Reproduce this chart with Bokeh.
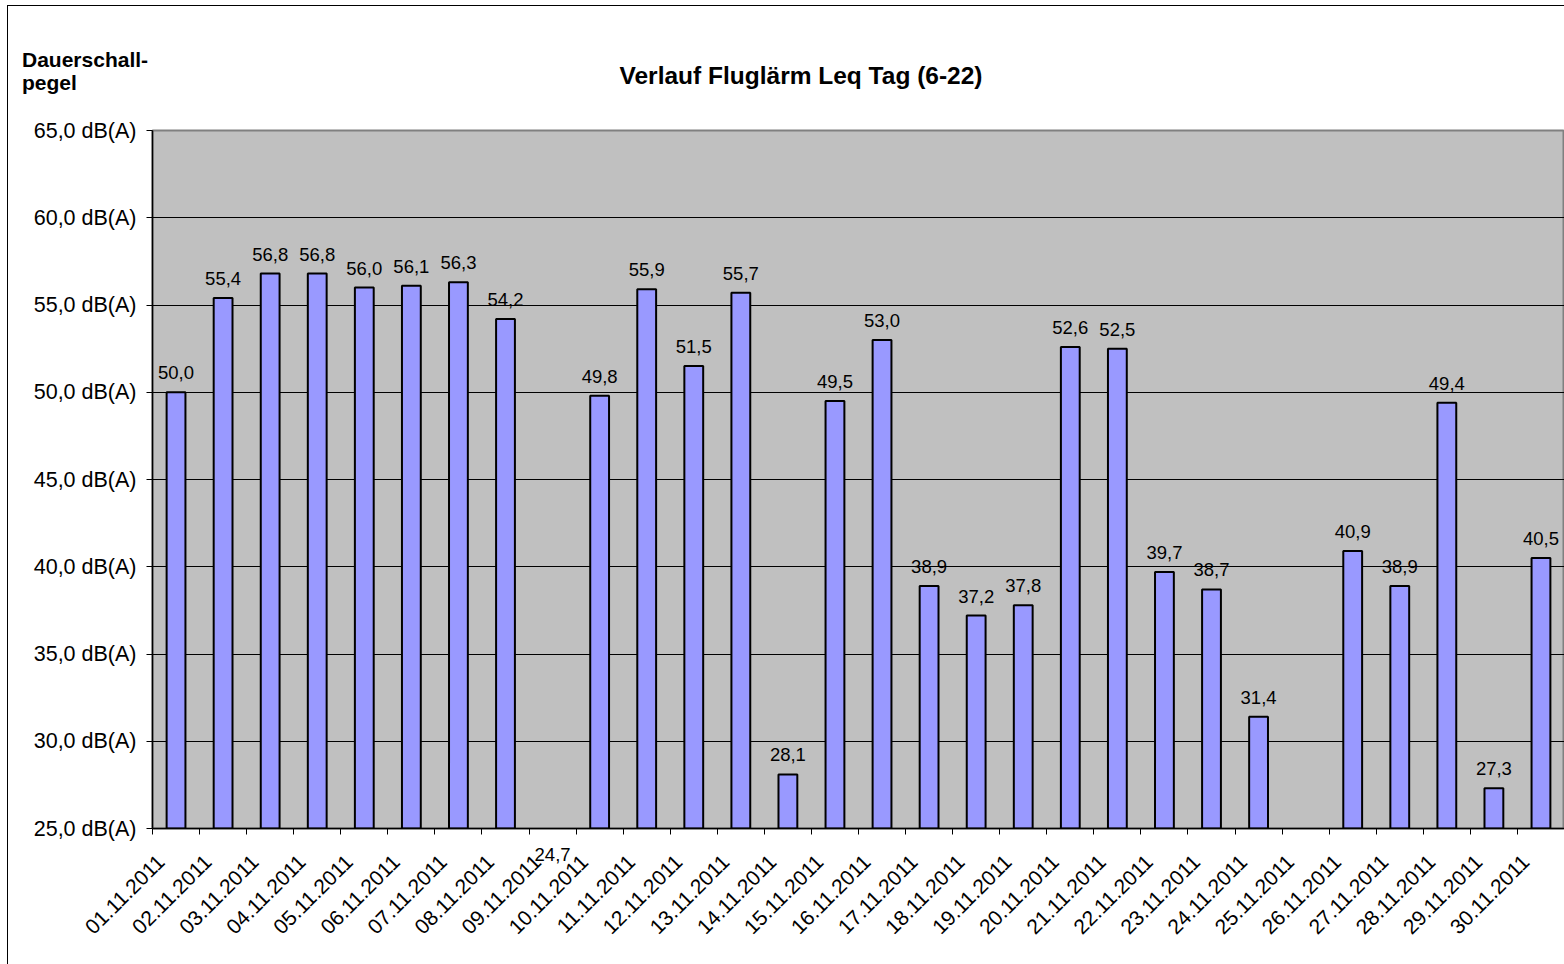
import math
from bokeh.plotting import figure
from bokeh.layouts import column
from bokeh.models import (ColumnDataSource, FixedTicker, CustomJSTickFormatter, Range1d,
                          Div, LinearAxis, Grid)
from bokeh.core.properties import value
from bokeh.embed import file_html
from bokeh.resources import INLINE

dates = ["01.11.2011", "02.11.2011", "03.11.2011", "04.11.2011", "05.11.2011",
         "06.11.2011", "07.11.2011", "08.11.2011", "09.11.2011", "10.11.2011",
         "11.11.2011", "12.11.2011", "13.11.2011", "14.11.2011", "15.11.2011",
         "16.11.2011", "17.11.2011", "18.11.2011", "19.11.2011", "20.11.2011",
         "21.11.2011", "22.11.2011", "23.11.2011", "24.11.2011", "25.11.2011",
         "26.11.2011", "27.11.2011", "28.11.2011", "29.11.2011", "30.11.2011"]
leq = [50.0, 55.4, 56.8, 56.8, 56.0, 56.1, 56.3, 54.2, 24.7, 49.8,
       55.9, 51.5, 55.7, 28.1, 49.5, 53.0, 38.9, 37.2, 37.8, 52.6,
       52.5, 39.7, 38.7, 31.4, None, 40.9, 38.9, 49.4, 27.3, 40.5]
y_ticks = [25, 30, 35, 40, 45, 50, 55, 60, 65]
y_min, y_max = 25, 65

title_text = "Verlauf Fluglärm Leq Tag (6-22)"
ylabel_lines = ["Dauerschall-", "pegel"]

FONT = "Liberation Sans"

def fmt(v):
    return f"{v:.1f}".replace(".", ",")

# bars above the axis minimum: bar + label above; below minimum: label under the axis
up = [(i + 0.5, v) for i, v in enumerate(leq) if v is not None and v > y_min]
down = [(i + 0.5, v) for i, v in enumerate(leq) if v is not None and v <= y_min]

bar_src = ColumnDataSource(dict(x=[a for a, _ in up], top=[b for _, b in up]))
lab_src = ColumnDataSource(dict(x=[a for a, _ in up], y=[b for _, b in up],
                                text=[fmt(b) for _, b in up]))

# whole chart starts at page (8, 6) after a 7px/5px margin and 1px border
W = 1556
HEAD_H = 110          # header div height
FIG_H = 958 - HEAD_H  # figure height
FT, FL, FB = 14, 144, 136

span = ('position:absolute;font-weight:bold;white-space:nowrap;')
header = Div(width=W, height=HEAD_H, text=(
    f'<div style="position:relative;width:{W}px;height:{HEAD_H}px;'
    f'font-family:\'{FONT}\';color:black;">'
    f'<span style="{span}left:14px;top:43px;font-size:21px;line-height:21px;">'
    f'{ylabel_lines[0]}</span>'
    f'<span style="{span}left:14px;top:66px;font-size:21px;line-height:21px;">'
    f'{ylabel_lines[1]}</span>'
    f'<span style="{span}left:793px;top:58px;font-size:24.5px;line-height:24.5px;'
    f'transform:translateX(-50%);">{title_text}</span>'
    f'</div>'))
header.styles = {"margin": "0", "padding": "0"}

p = figure(width=W, height=FIG_H, output_backend="svg", toolbar_location=None,
           x_range=Range1d(0, len(dates)), y_range=Range1d(y_min, y_max),
           x_axis_location=None,
           min_border_left=FL, min_border_right=0, min_border_top=FT,
           min_border_bottom=FB)

p.background_fill_color = "#C0C0C0"
p.border_fill_color = "white"
p.outline_line_color = "#808080"
p.outline_line_width = 2

# only horizontal grid lines
for g in p.center:
    if isinstance(g, Grid):
        if g.dimension == 0:
            g.visible = False
            g.grid_line_color = None
        else:
            g.grid_line_color = "black"
            g.grid_line_width = 1

p.vbar(x="x", top="top", bottom=y_min, width=0.4, source=bar_src,
       fill_color="#9999FF", line_color="black", line_width=2)

p.text(x="x", y="y", text="text", source=lab_src, text_align="center",
       text_baseline="bottom", y_offset=-13, text_font=value(FONT),
       text_font_size="18.5px", text_color="black")

# y axis
yax = p.yaxis[0]
yax.ticker = FixedTicker(ticks=y_ticks)
yax.formatter = CustomJSTickFormatter(code="return tick.toFixed(1).replace('.', ',') + ' dB(A)'")
yax.major_label_text_font = FONT
yax.major_label_text_font_size = "21.5px"
yax.major_label_text_color = "black"
yax.major_tick_out = 6
yax.major_tick_in = 0
yax.minor_tick_line_color = None
yax.axis_line_color = "black"
yax.axis_line_width = 1.5
yax.major_label_standoff = 10

# x axis: invisible major ticks carry the labels, minor ticks mark category borders
xax = LinearAxis(
    ticker=FixedTicker(ticks=[i + 0.18 for i in range(len(dates))],
                       minor_ticks=list(range(len(dates) + 1))),
    formatter=CustomJSTickFormatter(args=dict(labels=dates),
                                    code="return labels[Math.floor(tick)]"),
    major_label_orientation=math.pi / 4,
    major_label_text_font=FONT, major_label_text_font_size="21px",
    major_label_text_color="black",
    major_tick_out=0, major_tick_in=0,
    minor_tick_out=6, minor_tick_in=0, minor_tick_line_color="black",
    axis_line_color="black", axis_line_width=1.5,
    major_label_standoff=24)
p.add_layout(xax, "below")

# value labels of days below the axis minimum: shown under the axis line
low_ax = LinearAxis(
    ticker=FixedTicker(ticks=[a for a, _ in down]),
    formatter=CustomJSTickFormatter(
        args=dict(xs=[a for a, _ in down], texts=[fmt(b) for _, b in down]),
        code="const i = xs.indexOf(tick); return i >= 0 ? texts[i] : ''"),
    major_label_orientation="horizontal",
    major_label_text_font=FONT, major_label_text_font_size="18.5px",
    major_label_text_color="black",
    major_tick_line_color=None, minor_tick_line_color=None,
    axis_line_color=None, major_label_standoff=-102)
p.add_layout(low_ax, "below")

layout = column(header, p, spacing=0)
layout.styles = {"margin-left": "7px", "margin-top": "5px",
                 "border-left": "1px solid black", "border-top": "1px solid black"}

open("out.html", "w").write(file_html(layout, INLINE))
